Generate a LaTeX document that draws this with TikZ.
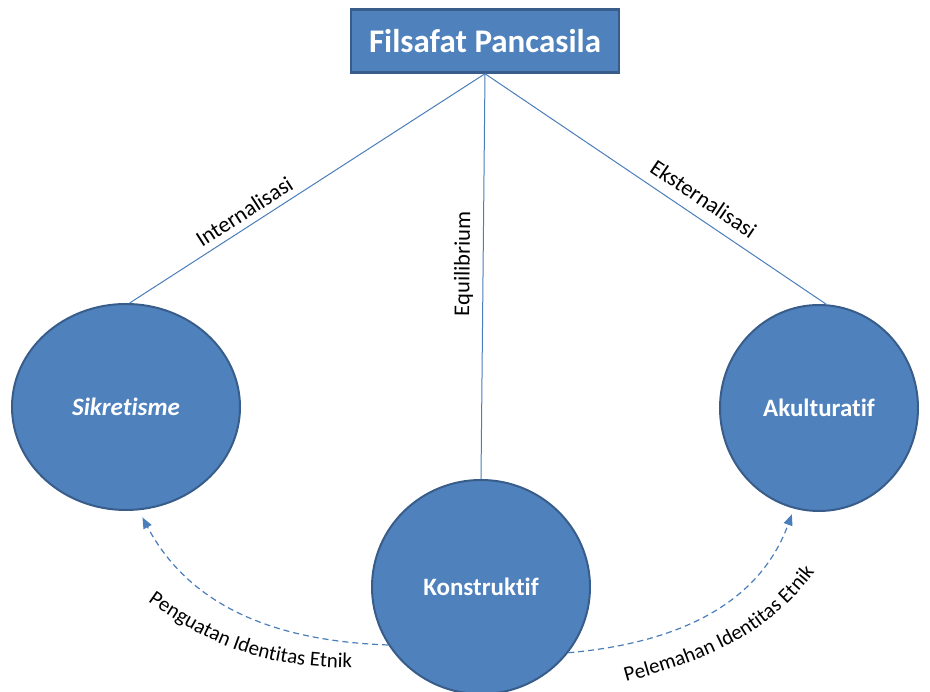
\documentclass[tikz,border=0pt]{standalone}
\usepackage{fontspec}
\setmainfont{Carlito}[Ligatures=NoCommon]
\usetikzlibrary{arrows.meta,decorations.text,shapes.geometric}
\definecolor{boxblue}{HTML}{4F81BD}
\definecolor{edgeblue}{HTML}{385D8A}
\definecolor{lineblue}{HTML}{4A7EBB}
\begin{document}
\begin{tikzpicture}[x=1pt, y=1pt,
    titlebox/.style={rectangle, draw=edgeblue, line width=2.5pt, fill=boxblue, text=white,
      font=\fontsize{33}{36}\selectfont\bfseries, minimum width=268pt, minimum height=63pt},
    blob/.style={ellipse, draw=edgeblue, line width=2pt, fill=boxblue, text=white,
      font=\fontsize{25}{28}\selectfont\bfseries, inner sep=0pt},
    link/.style={draw=lineblue, line width=1pt},
    flow/.style={draw=lineblue, line width=1.2pt, dash pattern=on 6pt off 4pt,
      -{Triangle[length=11pt,width=9pt]}},
    lbl/.style={font=\fontsize{22.5}{26}\selectfont, text=black, sloped}]
  \useasboundingbox (0,0) rectangle (930,692);
  \node (F) at (485,651) [titlebox] {Filsafat Pancasila};
  \node (S) at (126,285) [blob, minimum width=228pt, minimum height=206pt] {\itshape Sikretisme};
  \node (A) at (819,284) [blob, minimum width=198pt, minimum height=206pt] {Akulturatif};
  \node (K) at (481,105) [blob, minimum width=218pt, minimum height=214pt] {Konstruktif};
  \draw[link] (F.south) -- node[lbl, above=3pt, pos=0.655] {Internalisasi} (S.88);
  \draw[link] (F.south) -- node[lbl, above=6pt, pos=0.47] {Equilibrium} (K.north);
  \draw[link] (F.south) -- node[lbl, above=7pt, pos=0.61] {Eksternalisasi} (A.86);
  \draw[flow, shorten >=8pt] (K.212) to[out=178, in=-62] (S.277);
  \draw[flow, shorten >=6pt] (K.-37) to[out=5, in=250] (A.256);
  \path[decorate, decoration={text along path, text align=center,
      text={|\fontsize{21}{24}\selectfont|Penguatan Identitas Etnik}}]
    (143,94) to[out=-36, in=180] (358,24);
  \path[decorate, decoration={text along path, text align=center,
      text={|\fontsize{21}{24}\selectfont|Pelemahan Identitas Etnik}}]
    (611,6) to[out=15, in=235] (824,132);
\end{tikzpicture}
\end{document}
